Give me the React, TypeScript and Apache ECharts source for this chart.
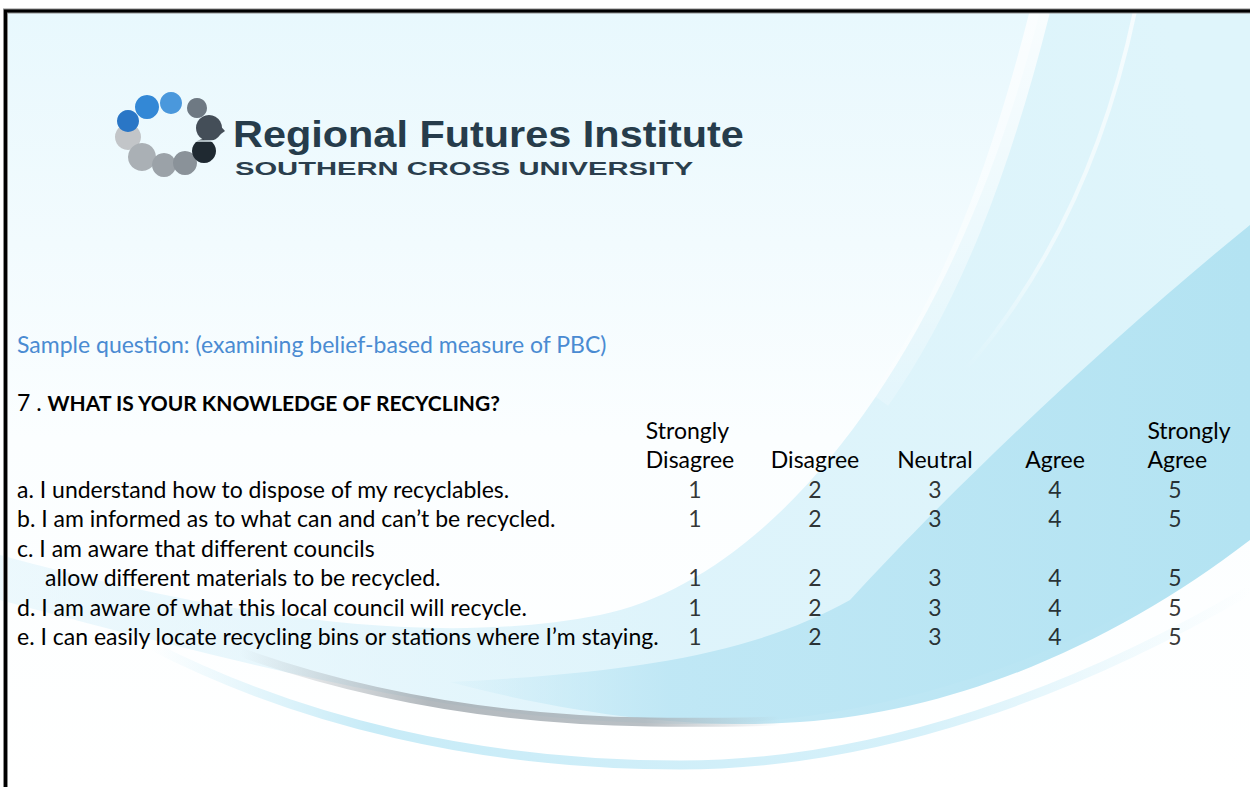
import React, { useEffect, useRef } from 'react';
import * as echarts from 'echarts';

// ---------- content ----------
const orgName = 'Regional Futures Institute';
const orgSub = 'SOUTHERN CROSS UNIVERSITY';
const introText = 'Sample question: (examining belief-based measure of PBC)';
const questionNumber = '7 . ';
const questionText = 'WHAT IS YOUR KNOWLEDGE OF RECYCLING?';

const scaleLabels = ['Strongly\nDisagree', 'Disagree', 'Neutral', 'Agree', 'Strongly\nAgree'];
const scaleValues = [1, 2, 3, 4, 5];

const statementLines = [
  'a. I understand how to dispose of my recyclables.',
  'b. I am informed as to what can and can’t be recycled.',
  'c. I am aware that different councils',
  'allow different materials to be recycled.',
  'd. I am aware of what this local council will recycle.',
  'e. I can easily locate recycling bins or stations where I’m staying.',
];
const indentedLines = [3];
const ratedLines = [0, 1, 3, 4, 5];

// ---------- background shapes ----------
const SHAPES: Record<string, string> = {
  paleRegion:
    'M 1040 11 L 1250 11 L 1250 530 C 1120 640 900 725 690 724 C 480 723 300 680 0 600 L 0 555 C 200 610 420 650 600 615 C 790 575 960 330 1040 11 Z',
  blueCrescent:
    'M 1250 225 C 1120 330 960 480 850 600 C 760 650 650 672 450 682 C 600 722 720 728 800 722 C 960 712 1120 640 1250 540 Z',
  whiteBand: 'M 1040 11 C 1000 170 950 300 880 400',
  whiteLine: 'M 1135 11 C 1110 130 1060 260 965 370',
  greySwoosh: 'M 240 652 C 360 695 500 720 650 722 C 700 723 740 722 780 721',
  lowSwoosh: 'M 150 645 C 300 722 480 765 680 765 C 880 765 1080 690 1250 590',
};
Object.keys(SHAPES).forEach((k) => {
  echarts.graphic.registerShape(k, echarts.graphic.extendPath(SHAPES[k], {}));
});

const BODY_FONT = 'Lato, "Open Sans", sans-serif';
const BODY_SIZE = 23;

export default function App() {
  const ref = useRef<HTMLDivElement>(null);
  useEffect(() => {
    document.body.style.margin = '0';
    if (!ref.current) return;
    const chart = echarts.init(ref.current, null, { renderer: 'svg' });

    const data: number[][] = [];
    ratedLines.forEach((row) => {
      scaleValues.forEach((v, col) => data.push([col, row, v]));
    });

    const lg = (x: number, y: number, x2: number, y2: number, stops: [number, string][]) =>
      new echarts.graphic.LinearGradient(x, y, x2, y2, stops.map(([offset, color]) => ({ offset, color })), true);

    const bg: any[] = [
      {
        type: 'rect', z: -20, shape: { x: 5, y: 11, width: 1250, height: 780 },
        style: { fill: lg(0, 11, 0, 787, [[0, '#E8F8FD'], [0.3, '#F2FBFE'], [0.55, '#FBFEFF'], [1, '#FFFFFF']]) },
      },
      {
        type: 'paleRegion', z: -19,
        style: { fill: lg(0, 700, 1250, 250, [[0, 'rgba(214,240,250,0.4)'], [0.5, 'rgba(214,241,250,0.8)'], [1, '#DFF5FB']]) },
      },
      { type: 'whiteBand', z: -18, style: { fill: 'none', stroke: lg(0, 11, 0, 400, [[0, 'rgba(255,255,255,0.8)'], [1, 'rgba(255,255,255,0.2)']]), lineWidth: 20 } },
      { type: 'whiteLine', z: -18, style: { fill: 'none', stroke: lg(0, 11, 0, 370, [[0, 'rgba(255,255,255,0.7)'], [0.7, 'rgba(255,255,255,0.5)'], [1, 'rgba(255,255,255,0)']]), lineWidth: 4 } },
      {
        type: 'blueCrescent', z: -17,
        style: { fill: lg(420, 0, 1250, 0, [[0, 'rgba(184,228,243,0)'], [0.3, 'rgba(186,229,244,0.85)'], [1, '#B3E3F2']]) },
      },
      {
        type: 'lowSwoosh', z: -16,
        style: { fill: 'none', lineWidth: 9, stroke: lg(150, 0, 1250, 0, [[0, 'rgba(190,232,246,0)'], [0.2, 'rgba(190,232,246,0.85)'], [0.7, 'rgba(200,236,248,0.75)'], [1, 'rgba(210,240,250,0)']]) },
      },
      {
        type: 'greySwoosh', z: -15,
        style: { fill: 'none', lineWidth: 9, stroke: lg(240, 0, 780, 0, [[0, 'rgba(160,168,174,0)'], [0.35, 'rgba(160,168,174,0.8)'], [0.75, 'rgba(168,176,182,0.8)'], [1, 'rgba(170,178,184,0)']]) },
      },
      // frame
      { type: 'rect', z: 50, shape: { x: 5.5, y: 11, width: 1260, height: 800 }, style: { fill: 'none', stroke: '#8c8c8c', lineWidth: 5 } },
      { type: 'rect', z: 51, shape: { x: 5.5, y: 11, width: 1260, height: 800 }, style: { fill: 'none', stroke: '#000', lineWidth: 3 } },
    ];

    // logo ring of blobs: [cx, cy, r, colour]
    const blobs: [number, number, number, string][] = [
      [128, 137, 13, '#c2c5c8'],
      [142, 157, 14, '#aab0b5'],
      [164, 165, 12, '#9ba2a8'],
      [185, 163, 12, '#8a9299'],
      [204, 151, 12, '#1f2931'],
      [209, 128, 13, '#444e58'],
      [197, 108, 10, '#6e7983'],
      [171, 103, 11, '#4a98dc'],
      [147, 107, 12, '#3388d6'],
      [128, 121, 11, '#2a76c6'],
    ];
    const logo: any[] = blobs.map(([cx, cy, r, fill]) => ({
      type: 'circle', z: 5, shape: { cx, cy, r }, style: { fill },
    }));
    logo.push({ type: 'polygon', z: 5, shape: { points: [[214, 119], [225, 131], [214, 139]] }, style: { fill: '#444e58' } });
    logo.push({ type: 'line', z: 6, shape: { x1: 195, y1: 141, x2: 223, y2: 141 }, style: { stroke: 'rgba(235,248,253,0.9)', lineWidth: 1.5 } });
    logo.push({
      type: 'text', z: 5, x: 233, y: 134, scaleX: 1.12, originX: 0, originY: 0,
      style: { text: orgName, fill: '#263c4b', font: 'bold 37px "Liberation Sans", Arial, sans-serif', textAlign: 'left', align: 'left', textVerticalAlign: 'middle', verticalAlign: 'middle' },
    });
    logo.push({
      type: 'text', z: 5, x: 235, y: 169, scaleX: 1.62, originX: 0, originY: 0,
      style: { text: orgSub, fill: '#2a3e4d', font: 'bold 18px "Liberation Sans", Arial, sans-serif', textAlign: 'left', align: 'left', textVerticalAlign: 'middle', verticalAlign: 'middle' },
    });

    const texts: any[] = [
      {
        type: 'text', z: 5, x: 17, y: 344,
        style: { text: introText, fill: '#4a8bd2', font: `${BODY_SIZE}px ${BODY_FONT}`, textAlign: 'left', align: 'left', textVerticalAlign: 'middle', verticalAlign: 'middle' },
      },
      {
        type: 'text', z: 5, x: 17, y: 402,
        style: {
          text: `{n|${questionNumber}}{b|${questionText}}`,
          textAlign: 'left', align: 'left', textVerticalAlign: 'middle', verticalAlign: 'middle',
          rich: {
            n: { fontFamily: BODY_FONT, fontSize: BODY_SIZE, fill: '#000', color: '#000' },
            b: { fontFamily: BODY_FONT, fontSize: 21, fontWeight: 'bold', fill: '#000', color: '#000' },
          },
        },
      },
    ];

    const labelBase = { fontFamily: BODY_FONT, fontSize: BODY_SIZE, color: '#000', lineHeight: 29 };

    chart.setOption({
      animation: false,
      backgroundColor: '#ffffff',
      grid: { left: 635, width: 600, top: 474, height: 177 },
      xAxis: {
        type: 'category', position: 'top', data: scaleLabels, z: 10,
        axisLine: { show: false }, axisTick: { show: false }, splitLine: { show: false },
        axisLabel: {
          interval: 0, margin: 1, ...labelBase,
          formatter: (v: string, i: number) => {
            const parts = v.split('\n');
            const key = i === 0 ? 'first' : i === scaleLabels.length - 1 ? 'last' : 'mid';
            return parts.map((p) => `{${key}|${p}}`).join('\n');
          },
          rich: {
            first: { ...labelBase, align: 'left', padding: [0, 10, 0, 0] },
            last: { ...labelBase, align: 'left', padding: [0, 0, 0, 28] },
            mid: { ...labelBase },
          },
        },
      },
      yAxis: {
        type: 'category', inverse: true, data: statementLines, z: 10,
        axisLine: { show: false }, axisTick: { show: false }, splitLine: { show: false },
        axisLabel: {
          interval: 0, margin: 618, align: 'left', ...labelBase,
          formatter: (v: string, i: number) => (indentedLines.includes(i) ? `{ind|${v}}` : `{n|${v}}`),
          rich: {
            ind: { ...labelBase, padding: [0, 0, 0, 28] },
            n: { ...labelBase },
          },
        },
      },
      series: [
        {
          type: 'scatter', z: 10, symbolSize: 1, itemStyle: { color: 'rgba(0,0,0,0)' },
          label: { show: true, position: 'inside', formatter: (p: any) => String(p.value[2]), ...labelBase },
          data,
        },
      ],
      graphic: { elements: [...bg, ...logo, ...texts] },
    });
    return () => chart.dispose();
  }, []);
  return <div ref={ref} style={{ width: 1250, height: 787 }} />;
}
